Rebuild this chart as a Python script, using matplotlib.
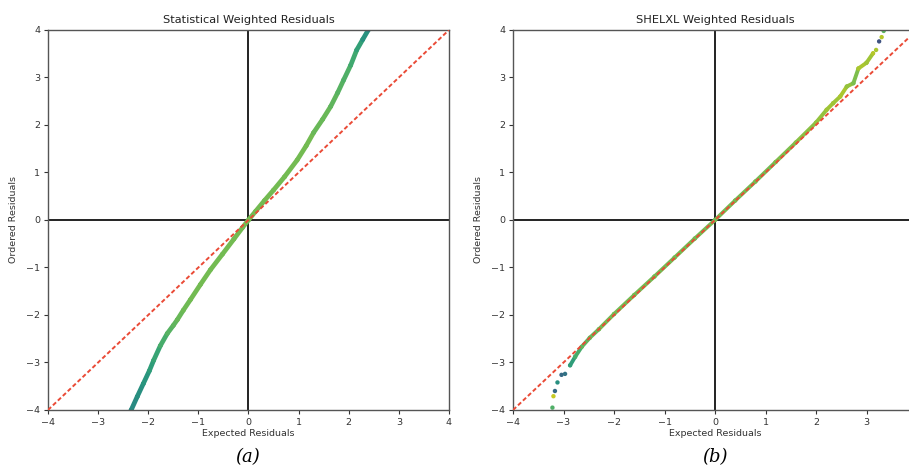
import numpy as np
import matplotlib
matplotlib.use("Agg")
import matplotlib.pyplot as plt
from matplotlib.collections import LineCollection

# panel (a): statistical weighted residuals (expected, ordered, colour value)
stat_exp = [-2.45, -2.34, -2.22, -2.10, -1.98, -1.89, -1.76, -1.62, -1.50, -1.42,
            -1.30, -1.16, -0.96, -0.76, -0.52, -0.29, -0.12, 0.0, 0.14, 0.32,
            0.50, 0.72, 0.97, 1.15, 1.30, 1.48, 1.64, 1.78, 1.90, 2.04,
            2.16, 2.28, 2.39, 2.45]
stat_ord = [-4.20, -4.00, -3.72, -3.45, -3.18, -2.95, -2.65, -2.39, -2.22, -2.10,
            -1.90, -1.68, -1.36, -1.05, -0.72, -0.40, -0.16, 0.0, 0.18, 0.41,
            0.63, 0.91, 1.26, 1.56, 1.84, 2.12, 2.39, 2.68, 2.95, 3.26,
            3.58, 3.80, 4.00, 4.15]
stat_col = [0.50, 0.52, 0.55, 0.58, 0.62, 0.66, 0.70, 0.74, 0.76, 0.78,
            0.79, 0.80, 0.80, 0.80, 0.80, 0.80, 0.80, 0.80, 0.80, 0.80,
            0.80, 0.80, 0.80, 0.80, 0.78, 0.78, 0.76, 0.74, 0.72, 0.68,
            0.64, 0.56, 0.48, 0.45]

# panel (b): SHELXL weighted residuals
shel_exp = [-3.22, -3.20, -3.17, -3.12, -3.04, -2.97, -2.87, -2.77, -2.64, -2.48,
            -2.30, -2.00, -1.60, -1.20, -0.80, -0.40, 0.0, 0.40, 0.80, 1.20,
            1.60, 2.00, 2.21, 2.34, 2.48, 2.61, 2.74, 2.84, 3.00, 3.13,
            3.19, 3.25, 3.30, 3.34]
shel_ord = [-3.95, -3.71, -3.60, -3.42, -3.26, -3.24, -3.06, -2.88, -2.67, -2.48,
            -2.30, -1.98, -1.58, -1.19, -0.79, -0.39, 0.0, 0.41, 0.81, 1.22,
            1.63, 2.05, 2.32, 2.46, 2.60, 2.81, 2.88, 3.19, 3.31, 3.51,
            3.58, 3.76, 3.85, 3.98]
shel_col = [0.72, 0.95, 0.35, 0.55, 0.35, 0.40, 0.62, 0.70, 0.76, 0.78,
            0.80, 0.80, 0.80, 0.80, 0.80, 0.80, 0.80, 0.80, 0.80, 0.82,
            0.84, 0.86, 0.88, 0.88, 0.90, 0.86, 0.82, 0.90, 0.88, 0.92,
            0.90, 0.25, 0.92, 0.75]

titles = ["Statistical Weighted Residuals", "SHELXL Weighted Residuals"]
panel_tags = ["(a)", "(b)"]
lims = [-4, 4]
ticks = [-4, -3, -2, -1, 0, 1, 2, 3, 4]

plt.rcParams["font.family"] = ["DejaVu Sans"]
fig = plt.figure(figsize=(9.09, 4.65), dpi=100)
ax1 = fig.add_axes([0.0528, 0.1183, 0.4411, 0.8172])
ax2 = fig.add_axes([0.5644, 0.1183, 0.4444, 0.8172])

cmap = plt.get_cmap("viridis")


def muted(vals):
    # slightly darker / greyer than pure viridis, like the blurred original
    rgba = cmap(vals)
    rgba[:, :3] = rgba[:, :3] * 0.82 + 0.06
    return rgba


def draw_panel(ax, xs, ys, cs, title, line_from, line_to, xticks, lw):
    xs = np.asarray(xs)
    ys = np.asarray(ys)
    cs = np.asarray(cs)
    ax.axhline(0, color="#222222", lw=1.4, zorder=1)
    ax.axvline(0, color="#222222", lw=1.4, zorder=1)
    # dense part of the quantile band
    pts = np.column_stack([xs, ys])[line_from:line_to]
    segs = np.stack([pts[:-1], pts[1:]], axis=1)
    band = LineCollection(segs, colors=muted(cs[line_from:line_to - 1]),
                          linewidths=lw, capstyle="round", zorder=2)
    ax.add_collection(band)
    ax.scatter(xs, ys, c=muted(cs), s=10, edgecolors="none", zorder=2.5)
    ax.plot(lims, lims, color="#ea4a36", lw=1.4, ls=(0, (2.2, 1.3)), zorder=3)
    ax.set_xlim(lims)
    ax.set_ylim(lims)
    ax.set_xticks(xticks)
    ax.set_yticks(ticks)
    ax.tick_params(labelsize=6.8, colors="#333333", length=3, width=0.8, pad=2.5)
    for s in ax.spines.values():
        s.set_color("#555555")
        s.set_linewidth(1.0)
    ax.set_title(title, fontsize=8.2, color="#222222", pad=5)
    ax.set_xlabel("Expected Residuals", fontsize=6.8, color="#333333", labelpad=2)
    ax.set_ylabel("Ordered Residuals", fontsize=6.8, color="#333333", labelpad=6)


draw_panel(ax1, stat_exp, stat_ord, stat_col, titles[0], 0, len(stat_exp), ticks, 3.4)
draw_panel(ax2, shel_exp, shel_ord, shel_col, titles[1], 6, 30, ticks[:-1], 2.8)

fig.text(248 / 909, 1 - 457 / 465, panel_tags[0], ha="center", va="center",
         fontsize=13, style="italic", family="DejaVu Serif")
fig.text(715 / 909, 1 - 457 / 465, panel_tags[1], ha="center", va="center",
         fontsize=13, style="italic", family="DejaVu Serif")

fig.savefig("out.png", dpi=100)
